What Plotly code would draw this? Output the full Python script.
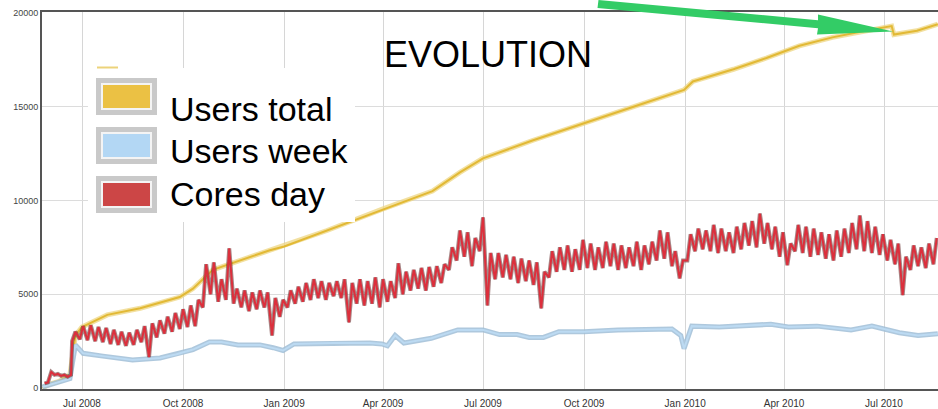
import plotly.graph_objects as go
import pandas as pd

# ---------------- data ----------------
x_tick_vals = ["2008-07-01", "2008-10-01", "2009-01-01", "2009-04-01", "2009-07-01",
               "2009-10-01", "2010-01-01", "2010-04-01", "2010-07-01"]
x_tick_text = ["Jul 2008", "Oct 2008", "Jan 2009", "Apr 2009", "Jul 2009",
               "Oct 2009", "Jan 2010", "Apr 2010", "Jul 2010"]
y_tick_vals = [0, 5000, 10000, 15000, 20000]
y_tick_text = ["0", "5000", "10000", "15000", "20000"]

series_names = ["Users total", "Users week", "Cores day"]

users_total_dates = ["2008-05-26", "2008-06-01", "2008-06-10", "2008-06-20", "2008-06-25",
                     "2008-07-01", "2008-07-24", "2008-08-23", "2008-09-28", "2008-10-10",
                     "2008-10-28", "2008-11-22", "2008-12-19", "2009-01-01", "2009-02-09",
                     "2009-04-01", "2009-05-16", "2009-06-10", "2009-07-01", "2009-08-15",
                     "2009-10-01", "2009-11-15", "2009-12-31", "2010-01-08", "2010-02-14",
                     "2010-03-16", "2010-04-15", "2010-05-15", "2010-06-14", "2010-07-08",
                     "2010-07-10", "2010-07-31", "2010-08-19"]
users_total = [0, 200, 350, 700, 2800,
               3250, 3900, 4250, 4850, 5300,
               6300, 6800, 7350, 7550, 8400,
               9550, 10500, 11500, 12250, 13200,
               14100, 15000, 15900, 16350, 17000,
               17600, 18250, 18700, 19050, 19300,
               18850, 19050, 19400]

users_week_dates = ["2008-05-26", "2008-06-10", "2008-06-20", "2008-06-25", "2008-07-02",
                    "2008-07-20", "2008-08-16", "2008-09-10", "2008-09-25", "2008-10-10",
                    "2008-10-25", "2008-11-05", "2008-11-20", "2008-12-10", "2008-12-22",
                    "2008-12-31", "2009-01-10", "2009-02-15", "2009-03-20", "2009-03-31",
                    "2009-04-05", "2009-04-12", "2009-04-20", "2009-05-15", "2009-06-08",
                    "2009-07-01", "2009-07-16", "2009-08-01", "2009-08-12", "2009-08-25",
                    "2009-09-08", "2009-10-01", "2009-11-01", "2009-12-20", "2009-12-28",
                    "2009-12-31", "2010-01-07", "2010-02-01", "2010-03-20", "2010-04-05",
                    "2010-05-01", "2010-06-01", "2010-06-20", "2010-07-01", "2010-07-15",
                    "2010-08-01", "2010-08-19"]
users_week = [50, 300, 500, 2300, 1850,
              1700, 1500, 1600, 1800, 2050,
              2450, 2450, 2300, 2300, 2150,
              2000, 2350, 2400, 2400, 2350,
              2250, 2800, 2400, 2650, 3100,
              3100, 2850, 2850, 2700, 2700,
              3000, 3000, 3100, 3150, 2800,
              2100, 3300, 3250, 3400, 3250,
              3300, 3100, 3300, 3150, 2950,
              2800, 2900]

# Cores day: early days, then one weekend low and one mid-week high per week
cores_early_dates = ["2008-05-28", "2008-05-31", "2008-06-03", "2008-06-06", "2008-06-09",
                     "2008-06-12", "2008-06-15", "2008-06-18", "2008-06-21"]
cores_early = [250, 300, 850, 700, 750, 650, 700, 600, 700]
cores_first_week = "2008-06-22"
cores_week_low = [2500, 2600, 2550, 2500, 2450, 2350, 2300, 2250, 2300, 2450,
                  1650, 2700, 2900, 3000, 3150, 3250, 3300, 4300, 5000, 4600,
                  4700, 4500, 4300, 4100, 4200, 4300, 2800, 3800, 4300, 4500,
                  4600, 4700, 4800, 4700, 4900, 4800, 3500, 4500, 4400, 4500,
                  4300, 4600, 4800, 5000, 5200, 5300, 5200, 5400, 5600, 6300,
                  6800, 7000, 6500, 7300, 4400, 5800, 5900, 5800, 5600, 5700,
                  5500, 4250, 5900, 6200, 6300, 6200, 6300, 6400, 6300, 6400,
                  6500, 6300, 6400, 6500, 6300, 6600, 6800, 6900, 6500, 5850,
                  6800, 7300, 7400, 7300, 7200, 7300, 7200, 7400, 7600, 7500,
                  7700, 7400, 7000, 6550, 7300, 7200, 7000, 7100, 6900, 6800,
                  7000, 7200, 7400, 7300, 7200, 7100, 6800, 6600, 4950, 6300,
                  6500, 6400, 6600]
cores_week_high = [3000, 3300, 3350, 3250, 3200, 3100, 3000, 2950, 3100, 3300,
                   3450, 3600, 3800, 4000, 4200, 4400, 4700, 6600, 6700, 5800,
                   7450, 5300, 5200, 5100, 5200, 5100, 4800, 4700, 5200, 5400,
                   5600, 5800, 5700, 5600, 5700, 5800, 5600, 5800, 5700, 5900,
                   5800, 5700, 6650, 6200, 6300, 6400, 6450, 6500, 6600, 7500,
                   8400, 8300, 8000, 9100, 7200, 7200, 7100, 7000, 6900, 6800,
                   6700, 6200, 7300, 7500, 7600, 7400, 7900, 7700, 7500, 7800,
                   7700, 7600, 7500, 7800, 7600, 7800, 8400, 8300, 7300, 6800,
                   8200, 8500, 8400, 8700, 8500, 8300, 8600, 8800, 8900, 9300,
                   8800, 8600, 8300, 7700, 8700, 8600, 8500, 8300, 8200, 8400,
                   8500, 8800, 9200, 8900, 8600, 8200, 7900, 7700, 7000, 7600,
                   7500, 7700, 8000]

# ---------------- build series ----------------
week_starts = pd.date_range(cores_first_week, periods=len(cores_week_low), freq="7D")
cores_x = list(pd.to_datetime(cores_early_dates))
cores_y = list(cores_early)
for ws, lo, hi in zip(week_starts, cores_week_low, cores_week_high):
    cores_x += [ws, ws + pd.Timedelta(days=3)]
    cores_y += [lo, hi]

# ---------------- geometry helpers ----------------
W, H = 938, 409
ML, MR, MT, MB = 42, 0, 12, 20
PW = W - ML - MR
PH = H - MT - MB


def pxx(x):
    return (x - ML) / PW


def pxy(y):
    return (H - MB - y) / PH


FONT = "Liberation Sans, Arial, Helvetica, sans-serif"
colors = {"Users total": "#ebc144", "Users week": "#b3d7f4", "Cores day": "#cc4646"}

fig = go.Figure()
# Users total
fig.add_trace(go.Scatter(x=users_total_dates, y=users_total, mode="lines",
                         line=dict(color="rgba(238,214,130,0.75)", width=5),
                         hoverinfo="skip", showlegend=False))
fig.add_trace(go.Scatter(x=users_total_dates, y=users_total, mode="lines",
                         line=dict(color="#e2b935", width=2),
                         name=series_names[0], showlegend=False))
# Users week
fig.add_trace(go.Scatter(x=users_week_dates, y=users_week, mode="lines",
                         line=dict(color="rgba(160,190,215,0.85)", width=5),
                         hoverinfo="skip", showlegend=False))
fig.add_trace(go.Scatter(x=users_week_dates, y=users_week, mode="lines",
                         line=dict(color="#bcdaf2", width=2),
                         name=series_names[1], showlegend=False))
# Cores day
fig.add_trace(go.Scatter(x=cores_x, y=cores_y, mode="lines",
                         line=dict(color="rgba(110,55,55,0.6)", width=4),
                         hoverinfo="skip", showlegend=False))
fig.add_trace(go.Scatter(x=cores_x, y=cores_y, mode="lines",
                         line=dict(color="#dc2f3c", width=2),
                         name=series_names[2], showlegend=False))

shapes = []
# white legend box covering the grid
shapes.append(dict(type="rect", xref="paper", yref="paper",
                   x0=pxx(88), x1=pxx(355), y0=pxy(222), y1=pxy(68),
                   fillcolor="white", line=dict(width=0), layer="above"))
# small remnant of the original legend line
shapes.append(dict(type="line", xref="paper", yref="paper",
                   x0=pxx(97), x1=pxx(118), y0=pxy(67.5), y1=pxy(67.5),
                   line=dict(color="#ecd37a", width=2), layer="above"))
swatch_tops = [78, 127, 176]
swatch_h = 37
text_mid = [109, 151, 194]
annotations = []
for name, top, tm in zip(series_names, swatch_tops, text_mid):
    shapes.append(dict(type="rect", xref="paper", yref="paper",
                       x0=pxx(96), x1=pxx(157), y0=pxy(top + swatch_h), y1=pxy(top),
                       fillcolor="#c9c9c9", line=dict(width=0), layer="above"))
    shapes.append(dict(type="rect", xref="paper", yref="paper",
                       x0=pxx(101), x1=pxx(152), y0=pxy(top + swatch_h - 5), y1=pxy(top + 5),
                       fillcolor="#f4f4f4", line=dict(width=0), layer="above"))
    shapes.append(dict(type="rect", xref="paper", yref="paper",
                       x0=pxx(103), x1=pxx(150), y0=pxy(top + swatch_h - 7), y1=pxy(top + 7),
                       fillcolor=colors[name], line=dict(width=0), layer="above"))
    annotations.append(dict(text=name, xref="paper", yref="paper",
                            x=pxx(168), y=pxy(tm), xanchor="left", yanchor="middle",
                            showarrow=False, font=dict(family=FONT, size=34, color="black")))

annotations.append(dict(text="EVOLUTION", xref="paper", yref="paper",
                        x=pxx(488), y=pxy(55), xanchor="center", yanchor="middle",
                        showarrow=False, font=dict(family=FONT, size=36, color="black")))

# green arrow
arrow_pts = [(598.5, 0.0), (818, 20.2), (818, 14.5), (893, 31.5), (817, 34.5),
             (818, 28.2), (597.5, 8.0)]
path = "M " + " L ".join(f"{pxx(a):.5f},{pxy(b):.5f}" for a, b in arrow_pts) + " Z"
shapes.append(dict(type="path", xref="paper", yref="paper", path=path,
                   fillcolor="#33cc66", line=dict(width=0), layer="above"))

fig.update_layout(
    width=W, height=H,
    margin=dict(l=ML, r=MR, t=MT, b=MB, pad=0),
    paper_bgcolor="white", plot_bgcolor="white",
    shapes=shapes, annotations=annotations,
    font=dict(family=FONT),
    xaxis=dict(range=["2008-05-25 14:10", "2010-08-19 03:36"], type="date",
               tickvals=x_tick_vals, ticktext=x_tick_text,
               tickfont=dict(family=FONT, size=10, color="#333"),
               ticklabelstandoff=4,
               showgrid=True, gridcolor="#d6d6d6", gridwidth=1,
               showline=True, linecolor="#555", linewidth=2, mirror=True,
               zeroline=False, ticks=""),
    yaxis=dict(range=[-53, 20053],
               tickvals=y_tick_vals, ticktext=y_tick_text,
               tickfont=dict(family=FONT, size=9, color="#444"),
               showgrid=True, gridcolor="#dcdcdc", gridwidth=1,
               showline=True, linecolor="#555", linewidth=2,
               zeroline=False, ticks=""),
)

fig.write_html("out.html", config={"displayModeBar": False},
               post_script="document.body.style.margin='0';document.body.style.overflow='hidden';")
